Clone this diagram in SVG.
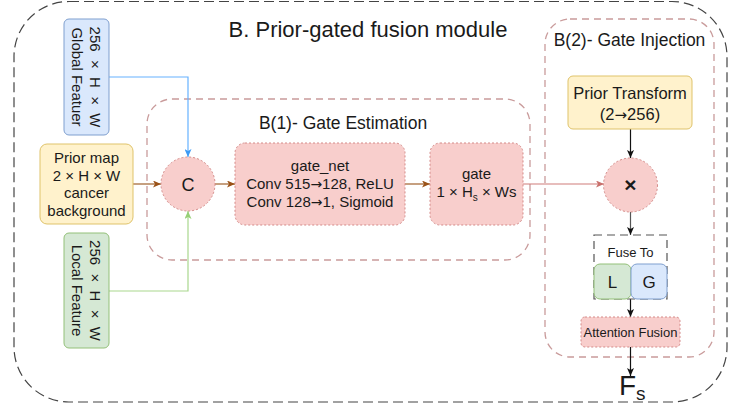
<svg xmlns="http://www.w3.org/2000/svg" width="729" height="408" viewBox="0 0 729 408">
  <defs>
    <style>
      text { font-family: "Liberation Sans", Arial, Helvetica, sans-serif; fill: #1a1a1a; }
      .lbl { font-size: 15px; text-anchor: middle; }
      .vert { font-size: 15px; text-anchor: middle; white-space: pre; }
      .arr { font-family: "DejaVu Sans", sans-serif; font-size: 14px; }
      .frame-outer { fill: none; stroke: #444; stroke-width: 1.2; stroke-dasharray: 10 5; }
      .frame-inner { fill: none; stroke: #c99b9b; stroke-width: 1.3; stroke-dasharray: 7 5; }
      .op { fill: #f8cecc; stroke: #d48a88; stroke-width: 1; stroke-dasharray: 2 2; }
      .prior { fill: #fff2cc; stroke: #dfc36a; stroke-width: 1; }
      .global { fill: #dae8fc; stroke: #7f9fcf; stroke-width: 1; }
      .local { fill: #d5e8d4; stroke: #93c078; stroke-width: 1; }
      .edge { fill: none; stroke-width: 1.2; }
    </style>
    <marker id="ah-brown" viewBox="0 0 8 7" refX="8" refY="3.5" markerWidth="8" markerHeight="7" markerUnits="userSpaceOnUse" orient="auto">
      <path d="M0,0 L8,3.5 L0,7 L2,3.5 Z" fill="#9a5218"/>
    </marker>
    <marker id="ah-blue" viewBox="0 0 8 7" refX="8" refY="3.5" markerWidth="8" markerHeight="7" markerUnits="userSpaceOnUse" orient="auto">
      <path d="M0,0 L8,3.5 L0,7 L2,3.5 Z" fill="#3d9bf5"/>
    </marker>
    <marker id="ah-green" viewBox="0 0 8 7" refX="8" refY="3.5" markerWidth="8" markerHeight="7" markerUnits="userSpaceOnUse" orient="auto">
      <path d="M0,0 L8,3.5 L0,7 L2,3.5 Z" fill="#97d077"/>
    </marker>
    <marker id="ah-red" viewBox="0 0 8 7" refX="8" refY="3.5" markerWidth="8" markerHeight="7" markerUnits="userSpaceOnUse" orient="auto">
      <path d="M0,0 L8,3.5 L0,7 L2,3.5 Z" fill="#c9706c"/>
    </marker>
    <marker id="ah-black" viewBox="0 0 8 7" refX="8" refY="3.5" markerWidth="8" markerHeight="7" markerUnits="userSpaceOnUse" orient="auto">
      <path d="M0,0 L8,3.5 L0,7 L2,3.5 Z" fill="#111"/>
    </marker>
  </defs>

  <!-- module frame and sub-frames -->
  <g id="module-frame">
    <rect class="frame-outer" x="14" y="1.5" width="713" height="400.5" rx="55"/>
    <text x="368" y="37" style="font-size:22px;text-anchor:middle">B. Prior-gated fusion module</text>
  </g>
  <g id="gate-estimation-frame">
    <rect class="frame-inner" x="147" y="99" width="383" height="161" rx="25"/>
    <text x="343" y="129" style="font-size:17.5px;text-anchor:middle">B(1)- Gate Estimation</text>
  </g>
  <g id="gate-injection-frame">
    <rect class="frame-inner" x="545" y="19" width="169" height="338" rx="25"/>
    <text x="629.5" y="46" style="font-size:17.5px;text-anchor:middle">B(2)- Gate Injection</text>
  </g>

  <!-- connectors -->
  <g id="connectors">
    <polyline class="edge" points="109,77 188,77 188,157" stroke="#66b2ff" marker-end="url(#ah-blue)"/>
    <polyline class="edge" points="109,291 188,291 188,211" stroke="#a9d88e" marker-end="url(#ah-green)"/>
    <line class="edge" x1="133" y1="184" x2="161" y2="184" stroke="#a0622c" marker-end="url(#ah-brown)"/>
    <line class="edge" x1="215" y1="184" x2="235" y2="184" stroke="#a0622c" marker-end="url(#ah-brown)"/>
    <line class="edge" x1="405" y1="184" x2="430" y2="184" stroke="#a0622c" marker-end="url(#ah-brown)"/>
    <line class="edge" x1="523" y1="184" x2="604" y2="184" stroke="#cf7d7a" marker-end="url(#ah-red)"/>
    <line class="edge" x1="630.5" y1="129" x2="630.5" y2="158" stroke="#111" marker-end="url(#ah-black)"/>
    <line class="edge" x1="630.5" y1="212" x2="630.5" y2="235" stroke="#555" marker-end="url(#ah-black)"/>
    <line class="edge" x1="630.5" y1="299" x2="630.5" y2="317" stroke="#111" marker-end="url(#ah-black)"/>
    <line class="edge" x1="630.5" y1="347" x2="630.5" y2="376" stroke="#111" marker-end="url(#ah-black)"/>
  </g>

  <!-- inputs -->
  <g id="global-feature">
    <rect class="global" x="64" y="19" width="45" height="116" rx="5"/>
    <g transform="translate(86.5,77) rotate(90)">
      <text class="vert" x="0" y="-3.6">256  ×  H  ×  W</text>
      <text class="vert" x="0" y="14.4">Global Featuer</text>
    </g>
  </g>
  <g id="prior-map">
    <rect class="prior" x="40" y="144" width="93" height="80" rx="7"/>
    <text class="lbl" x="86.5" y="163">Prior map</text>
    <text class="lbl" x="86.5" y="180.5">2 × H × W</text>
    <text class="lbl" x="86.5" y="198">cancer</text>
    <text class="lbl" x="86.5" y="215.5">background</text>
  </g>
  <g id="local-feature">
    <rect class="local" x="64" y="233" width="45" height="115" rx="5"/>
    <g transform="translate(86.5,290.5) rotate(90)">
      <text class="vert" x="0" y="-3.6">256  ×  H  ×  W</text>
      <text class="vert" x="0" y="14.4">Local Feature</text>
    </g>
  </g>

  <!-- gate estimation -->
  <g id="concat">
    <circle class="op" cx="188" cy="184" r="27"/>
    <text x="188" y="190.5" style="font-size:18px;text-anchor:middle">C</text>
  </g>
  <g id="gate-net">
    <rect class="op" x="235" y="143" width="170" height="82" rx="10"/>
    <text class="lbl" x="320" y="171">gate_net</text>
    <text class="lbl" x="320" y="189">Conv 515<tspan class="arr">→</tspan>128, ReLU</text>
    <text class="lbl" x="320" y="207">Conv 128<tspan class="arr">→</tspan>1, Sigmoid</text>
  </g>
  <g id="gate">
    <rect class="op" x="430" y="143" width="93" height="82" rx="10"/>
    <text class="lbl" x="476.5" y="179">gate</text>
    <text class="lbl" x="476.5" y="197">1 × H<tspan dy="4" style="font-size:10px">s</tspan><tspan dy="-4"> × Ws</tspan></text>
  </g>

  <!-- gate injection -->
  <g id="prior-transform">
    <rect class="prior" x="568" y="76" width="124" height="53" rx="5"/>
    <text x="630" y="99" style="font-size:16.5px;text-anchor:middle">Prior Transform</text>
    <text x="630" y="119.5" style="font-size:16.5px;text-anchor:middle">(2<tspan class="arr" style="font-size:15px">→</tspan>256)</text>
  </g>
  <g id="multiply">
    <circle class="op" cx="630.5" cy="185" r="27"/>
    <text x="630.5" y="192" style="font-size:21px;font-weight:bold;text-anchor:middle">×</text>
  </g>
  <g id="fuse-to">
    <rect x="594" y="235" width="73" height="64" fill="none" stroke="#555" stroke-width="1.2" stroke-dasharray="8 5"/>
    <text x="630.5" y="256.5" style="font-size:13px;text-anchor:middle">Fuse To</text>
  </g>
  <g id="fuse-local">
    <rect class="local" x="594" y="264" width="37" height="35" rx="6"/>
    <text x="612.5" y="288" style="font-size:17px;text-anchor:middle">L</text>
  </g>
  <g id="fuse-global">
    <rect class="global" x="631" y="264" width="36" height="35" rx="6"/>
    <text x="649" y="288" style="font-size:17px;text-anchor:middle">G</text>
  </g>
  <g id="attention-fusion">
    <rect class="op" x="581" y="317" width="99" height="30" rx="4"/>
    <text x="630.5" y="337" style="font-size:13px;text-anchor:middle">Attention Fusion</text>
  </g>
  <g id="fused-output">
    <text x="619" y="395" style="font-size:28px">F<tspan dy="5" style="font-size:19px">s</tspan></text>
  </g>
</svg>
